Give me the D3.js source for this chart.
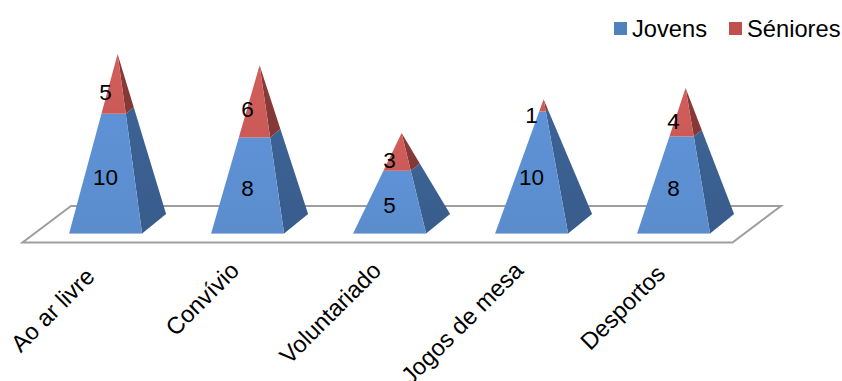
<!DOCTYPE html>
<html lang="pt">
<head>
<meta charset="utf-8">
<style>
html,body{margin:0;padding:0;background:#fff;overflow:hidden}
svg{display:block}
text{font-family:"Liberation Sans",Arial,sans-serif;fill:#000}
</style>
<script src="https://cdn.jsdelivr.net/npm/d3@7/dist/d3.min.js"></script>
</head>
<body>
<svg id="chart" width="842" height="381"></svg>
<script>
// Stacked 3D pyramid chart: two series per activity
const categories = ["Ao ar livre", "Convívio", "Voluntariado", "Jogos de mesa", "Desportos"];
const jovens = [10, 8, 5, 10, 8];
const seniores = [5, 6, 3, 1, 4];
const seriesNames = ["Jovens", "Séniores"];

const svg = d3.select("#chart");
const x = d3.scalePoint().domain(categories).range([105.6, 673.6]);
const y = d3.scaleLinear().domain([0, 15]).range([223.5, 54]);

// Half width of the front edge, and the receding offset of the base
const halfW = 36.5, depthX = 24, depthY = 19.5;

// Floor slab
const floor = [[22.5, 242.5], [732.5, 242.5], [781, 206], [71, 206]];
svg.append("path")
  .attr("d", d3.line()(floor) + "Z")
  .attr("fill", "#fff").attr("stroke", "#9e9e9e").attr("stroke-width", 2);

const defs = svg.append("defs");
const grad = (id, a, b) => {
  const g = defs.append("linearGradient").attr("id", id)
    .attr("x1", 0).attr("x2", 0).attr("y1", 0).attr("y2", 1);
  g.append("stop").attr("offset", 0).attr("stop-color", a);
  g.append("stop").attr("offset", 1).attr("stop-color", b);
};
grad("blueFront", "#5e92d6", "#5b8dcd");
grad("blueSide", "#3c6394", "#385c8c");
grad("redFront", "#d25e5b", "#cb5a57");
grad("redSide", "#8b3b39", "#823836");

const lerp = (p, q, t) => [p[0] + (q[0] - p[0]) * t, p[1] + (q[1] - p[1]) * t];
const line = d3.line();

// Small per-label adjustments for the slanted category text
const slantNudge = [[-2.5, 6], [0, 0], [0, 0], [0, 0], [0, 3]];

categories.forEach((c, i) => {
  const cx = x(c), total = jovens[i] + seniores[i];
  const fl = [cx - halfW, 233.5], fr = [cx + halfW, 233.5], br = [cx + halfW + depthX, 233.5 - depthY];
  const apex = [cx + depthX / 2, y(total)];
  const t = jovens[i] / total;
  const flM = lerp(fl, apex, t), frM = lerp(fr, apex, t), brM = lerp(br, apex, t);
  const face = (pts, fill) => svg.append("path").attr("d", line(pts) + "Z").attr("fill", fill);

  face([fr, br, brM, frM], "url(#blueSide)");
  face([frM, brM, apex], "url(#redSide)");
  face([fl, fr, frM, flM], "url(#blueFront)");
  face([flM, frM, apex], "url(#redFront)");

  // Pale rim along the bottom of the front face
  svg.append("path").attr("d", line([fl, fr])).attr("stroke", "#9dbde6").attr("stroke-width", 1).attr("fill", "none");

  // Value labels sit just below the midpoint of each segment on the centre axis
  const label = (v, mid) => svg.append("text")
    .attr("x", cx).attr("y", y(mid) + 18)
    .attr("text-anchor", "middle").attr("font-size", 22.5).text(v);
  label(jovens[i], jovens[i] / 2);
  label(seniores[i], jovens[i] + seniores[i] / 2);

  // Slanted category label
  svg.append("text")
    .attr("transform", `translate(${cx - 7 + slantNudge[i][0]},${272 + slantNudge[i][1]}) rotate(-45)`)
    .attr("text-anchor", "end").attr("font-size", 23.7).text(c);
});

// Legend
const legendX = [614, 729], legendColors = ["#4f81bd", "#c0504d"];
seriesNames.forEach((s, i) => {
  svg.append("rect").attr("x", legendX[i]).attr("y", 22).attr("width", 13).attr("height", 13).attr("fill", legendColors[i]);
  svg.append("text").attr("x", legendX[i] + 18).attr("y", 36.5).attr("font-size", 23.7).text(s);
});
</script>
</body>
</html>
